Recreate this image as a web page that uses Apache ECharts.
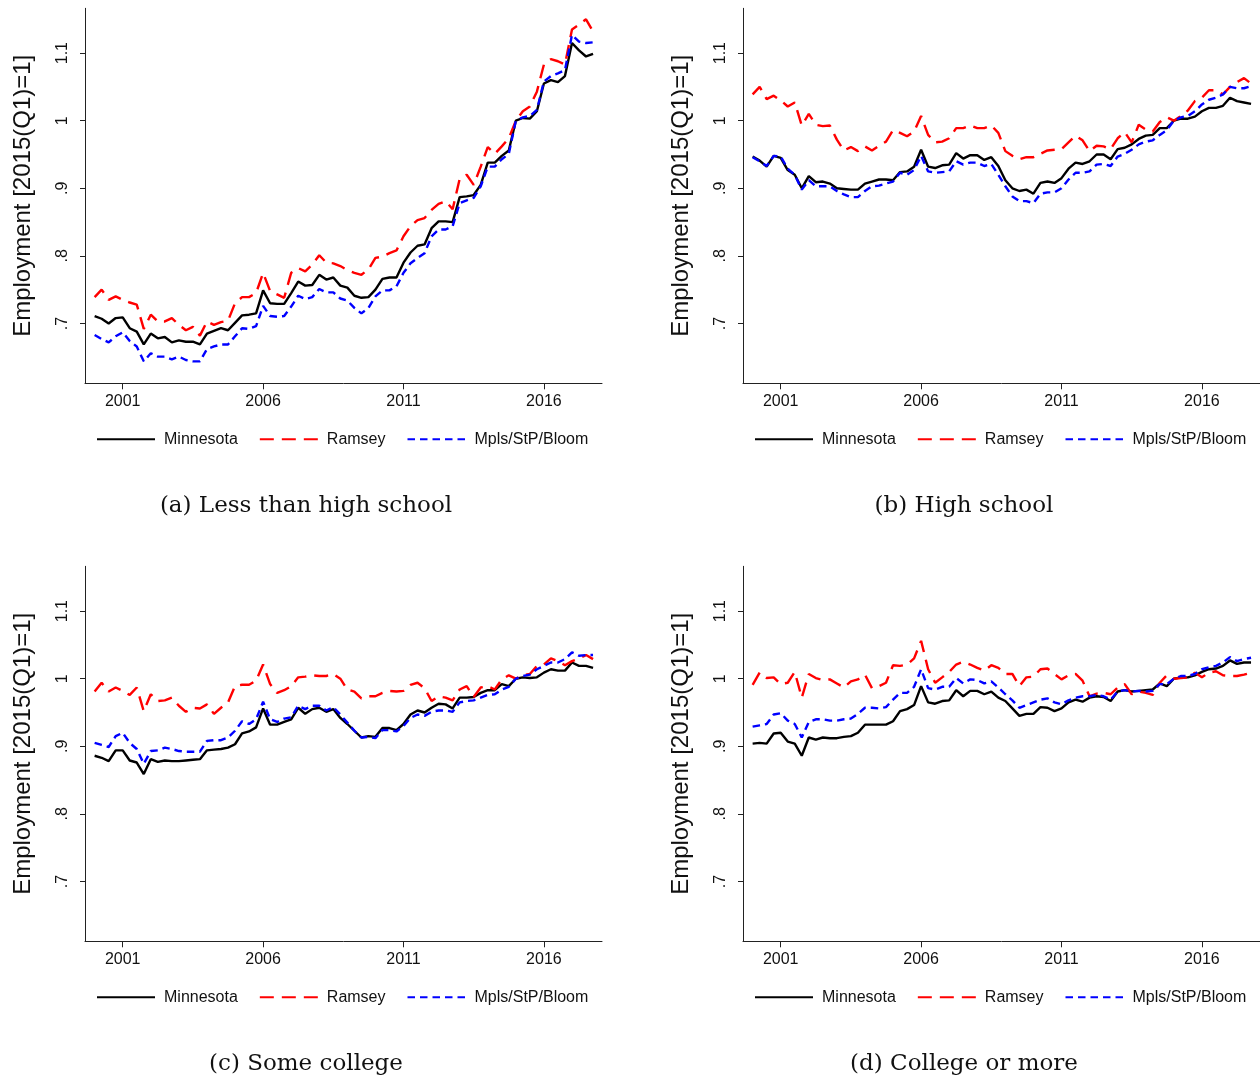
<!DOCTYPE html>
<html><head><meta charset="utf-8">
<script src="https://cdn.jsdelivr.net/npm/echarts@6/dist/echarts.min.js"></script>
<style>html,body{margin:0;padding:0;background:#fff}#c{width:1260px;height:1080px}</style>
</head><body><div id="c"></div>
<script>
// quarterly time axis: 2000q1 ... 2017q4
const quarters = [];
for (let i = 0; i < 72; i++) quarters.push(2000 + i / 4);
const xTicks = [2001, 2006, 2011, 2016];
const yTicks = [0.7, 0.8, 0.9, 1, 1.1];
const yTickLabels = ['.7', '.8', '.9', '1', '1.1'];
const seriesNames = ['Minnesota', 'Ramsey', 'Mpls/StP/Bloom'];
const captions = ['(a) Less than high school', '(b) High school', '(c) Some college', '(d) College or more'];
const yTitle = 'Employment [2015(Q1)=1]';

// (a) Less than high school
const aMN = [0.711,0.707,0.700,0.708,0.709,0.693,0.688,0.669,0.685,0.678,0.680,0.672,0.675,0.673,0.673,0.669,0.685,0.689,0.693,0.690,0.701,0.712,0.713,0.715,0.749,0.730,0.729,0.729,0.745,0.762,0.756,0.757,0.772,0.765,0.768,0.756,
0.753,0.741,0.738,0.739,0.750,0.766,0.768,0.768,0.790,0.805,0.815,0.817,0.841,0.851,0.851,0.850,0.887,0.888,0.890,0.905,0.938,0.938,0.948,0.956,1.000,1.004,1.003,1.014,1.055,1.060,1.057,1.066,1.115,1.104,1.095,1.099];
const aRam = [0.739,0.750,0.735,0.740,0.735,0.731,0.728,0.692,0.713,0.703,0.703,0.708,0.698,0.690,0.695,0.682,0.703,0.698,0.702,0.704,0.730,0.739,0.739,0.745,0.775,0.748,0.743,0.738,0.775,0.782,0.777,0.787,0.801,0.790,0.789,0.785,
0.779,0.775,0.772,0.780,0.797,0.799,0.804,0.808,0.829,0.844,0.853,0.856,0.868,0.877,0.881,0.869,0.914,0.920,0.905,0.932,0.961,0.951,0.962,0.974,1.000,1.014,1.021,1.043,1.083,1.091,1.088,1.083,1.135,1.142,1.150,1.132];
const aMsp = [0.683,0.677,0.672,0.681,0.687,0.674,0.666,0.644,0.656,0.651,0.651,0.647,0.651,0.646,0.644,0.644,0.662,0.666,0.669,0.669,0.681,0.693,0.692,0.696,0.726,0.711,0.710,0.711,0.725,0.741,0.736,0.739,0.751,0.746,0.746,0.737,
0.734,0.723,0.715,0.723,0.740,0.749,0.749,0.755,0.775,0.789,0.797,0.804,0.829,0.839,0.839,0.844,0.878,0.882,0.886,0.903,0.932,0.932,0.943,0.951,1.000,1.005,1.007,1.016,1.058,1.066,1.070,1.075,1.127,1.117,1.115,1.116];

// (b) High school
const bMN = [0.947,0.941,0.932,0.948,0.945,0.927,0.920,0.900,0.918,0.909,0.910,0.907,0.900,0.899,0.898,0.898,0.907,0.910,0.913,0.913,0.912,0.924,0.925,0.932,0.957,0.932,0.930,0.934,0.935,0.952,0.944,0.949,0.949,0.942,0.946,0.933,
0.912,0.900,0.896,0.898,0.892,0.908,0.910,0.908,0.915,0.929,0.938,0.936,0.940,0.950,0.950,0.943,0.958,0.960,0.965,0.973,0.978,0.979,0.989,0.989,1.000,1.003,1.003,1.006,1.014,1.019,1.019,1.022,1.034,1.029,1.027,1.025];
const bRam = [1.039,1.050,1.032,1.037,1.030,1.021,1.027,0.993,1.010,0.994,0.992,0.993,0.972,0.956,0.961,0.955,0.962,0.956,0.963,0.969,0.986,0.982,0.977,0.984,1.007,0.979,0.968,0.969,0.974,0.989,0.989,0.993,0.989,0.989,0.993,0.982,
0.955,0.948,0.943,0.946,0.946,0.951,0.956,0.957,0.958,0.968,0.978,0.971,0.955,0.963,0.962,0.958,0.974,0.983,0.968,0.994,0.987,0.984,0.998,1.005,1.000,1.007,1.015,1.029,1.034,1.045,1.045,1.039,1.050,1.057,1.063,1.055];
const bMsp = [0.946,0.940,0.933,0.948,0.947,0.929,0.920,0.898,0.912,0.903,0.903,0.903,0.896,0.891,0.887,0.887,0.896,0.903,0.904,0.907,0.910,0.923,0.920,0.927,0.948,0.925,0.923,0.924,0.925,0.940,0.935,0.938,0.938,0.933,0.936,0.920,
0.903,0.888,0.881,0.881,0.878,0.892,0.894,0.894,0.900,0.913,0.923,0.923,0.925,0.935,0.936,0.933,0.947,0.951,0.957,0.965,0.969,0.971,0.979,0.986,1.000,1.005,1.007,1.014,1.024,1.031,1.034,1.039,1.050,1.048,1.048,1.051];

// (c) Some college
const cMN = [0.886,0.883,0.878,0.894,0.894,0.879,0.876,0.859,0.881,0.877,0.879,0.878,0.878,0.879,0.880,0.881,0.894,0.895,0.896,0.898,0.903,0.919,0.922,0.928,0.956,0.932,0.932,0.936,0.940,0.957,0.948,0.955,0.957,0.951,0.955,0.942,
0.933,0.923,0.913,0.915,0.914,0.927,0.927,0.924,0.933,0.947,0.953,0.950,0.957,0.963,0.962,0.956,0.972,0.972,0.973,0.979,0.983,0.983,0.992,0.989,1.000,1.002,1.001,1.002,1.009,1.014,1.012,1.012,1.024,1.019,1.019,1.016];
const cRam = [0.981,0.994,0.981,0.987,0.982,0.976,0.987,0.952,0.977,0.967,0.968,0.972,0.960,0.951,0.957,0.956,0.962,0.948,0.957,0.965,0.989,0.991,0.991,0.997,1.021,0.992,0.979,0.983,0.989,1.002,1.003,1.005,1.004,1.004,1.007,1.000,
0.984,0.981,0.971,0.974,0.974,0.979,0.982,0.981,0.982,0.991,0.994,0.986,0.967,0.974,0.972,0.968,0.984,0.989,0.973,0.987,0.989,0.984,0.999,1.005,1.000,1.005,1.007,1.019,1.021,1.030,1.026,1.020,1.026,1.030,1.035,1.029];
const cMsp = [0.905,0.902,0.899,0.915,0.920,0.905,0.896,0.874,0.893,0.894,0.898,0.896,0.893,0.892,0.892,0.892,0.908,0.909,0.909,0.913,0.923,0.937,0.933,0.940,0.966,0.940,0.936,0.941,0.943,0.960,0.955,0.960,0.960,0.953,0.958,0.947,
0.935,0.923,0.913,0.914,0.912,0.924,0.924,0.922,0.930,0.942,0.947,0.945,0.951,0.953,0.953,0.951,0.965,0.967,0.968,0.972,0.976,0.977,0.984,0.988,1.000,1.004,1.006,1.014,1.019,1.024,1.024,1.029,1.039,1.034,1.035,1.035];

// (d) College or more
const dMN = [0.904,0.905,0.904,0.919,0.920,0.907,0.904,0.886,0.913,0.910,0.913,0.912,0.912,0.914,0.915,0.920,0.932,0.932,0.932,0.932,0.937,0.952,0.955,0.961,0.989,0.965,0.963,0.967,0.968,0.983,0.974,0.982,0.982,0.977,0.981,0.972,
0.967,0.956,0.945,0.948,0.948,0.958,0.957,0.952,0.956,0.965,0.969,0.966,0.972,0.974,0.973,0.967,0.981,0.983,0.981,0.982,0.983,0.984,0.993,0.989,1.000,1.002,1.002,1.005,1.010,1.014,1.015,1.019,1.027,1.022,1.024,1.024];
const dRam = [0.991,1.009,1.001,1.002,0.992,0.994,1.010,0.972,1.007,1.001,0.998,0.999,0.993,0.987,0.996,0.999,1.006,0.986,0.989,0.994,1.020,1.019,1.021,1.030,1.056,1.014,0.994,1.002,1.010,1.021,1.025,1.021,1.016,1.012,1.020,1.016,
1.007,1.007,0.989,1.002,1.003,1.014,1.015,1.007,0.999,1.005,1.007,0.997,0.974,0.978,0.979,0.977,0.987,0.992,0.977,0.981,0.979,0.976,0.994,1.005,1.000,1.001,1.002,1.009,1.002,1.009,1.011,1.005,1.004,1.004,1.006,1.009];
const dMsp = [0.929,0.931,0.933,0.947,0.949,0.938,0.933,0.913,0.936,0.940,0.940,0.938,0.938,0.940,0.941,0.948,0.957,0.957,0.956,0.958,0.969,0.979,0.979,0.988,1.014,0.986,0.984,0.988,0.988,1.001,0.993,0.999,0.998,0.993,0.996,0.987,
0.977,0.968,0.957,0.961,0.965,0.969,0.971,0.965,0.962,0.968,0.972,0.974,0.974,0.976,0.974,0.969,0.981,0.983,0.981,0.982,0.981,0.982,0.992,0.992,1.000,1.004,1.004,1.007,1.014,1.017,1.019,1.024,1.032,1.026,1.029,1.031];

const panels = [[aMN, aRam, aMsp], [bMN, bRam, bMsp], [cMN, cRam, cMsp], [dMN, dRam, dMsp]];

// layout
const grids = [
  {left: 85, top: 8.3, width: 517, height: 375},
  {left: 743, top: 8.3, width: 517, height: 375},
  {left: 85, top: 566.3, width: 517, height: 375},
  {left: 743, top: 566.3, width: 517, height: 375}
];
const capCenters = [[306, 506], [964, 506], [306, 1064], [964, 1064]];
const styles = [
  {color: '#000000', type: 'solid'},
  {color: '#ff0000', type: [14, 8]},
  {color: '#0000ff', type: [7.5, 5]}
];
const SANS = '"Liberation Sans", Arial, sans-serif';

const option = {
  animation: false,
  backgroundColor: '#fff',
  grid: grids,
  xAxis: grids.map((g, k) => ({
    type: 'value', gridIndex: k, min: 1999.657, max: 2018.069,
    splitLine: {show: false},
    axisLine: {show: true, lineStyle: {color: '#222', width: 1}},
    axisTick: {show: true, length: 6, lineStyle: {color: '#222'}, customValues: xTicks},
    axisLabel: {fontFamily: SANS, fontSize: 16, color: '#111', margin: 10, customValues: xTicks,
      formatter: v => String(Math.round(v))}
  })),
  yAxis: grids.map((g, k) => ({
    type: 'value', gridIndex: k, min: 0.6115, max: 1.1663,
    name: yTitle, nameLocation: 'middle', nameRotate: 90, nameGap: 50,
    nameTextStyle: {fontFamily: SANS, fontSize: 24, color: '#111'},
    splitLine: {show: false},
    axisLine: {show: true, lineStyle: {color: '#222', width: 1}},
    axisTick: {show: true, length: 5, lineStyle: {color: '#222'}, customValues: yTicks},
    axisLabel: {fontFamily: SANS, fontSize: 16, color: '#111', rotate: 90, margin: 14, customValues: yTicks,
      formatter: v => { const i = yTicks.findIndex(t => Math.abs(t - v) < 1e-6); return i >= 0 ? yTickLabels[i] : ''; }}
  })),
  legend: grids.map((g, k) => ({
    data: seriesNames, left: g.left + 6, top: g.top + g.height + 43,
    itemWidth: 58, itemHeight: 14, itemGap: 21, selectedMode: false,
    itemStyle: {opacity: 0, borderWidth: 0},
    textStyle: {fontFamily: SANS, fontSize: 16, color: '#111', padding: [0, 0, 0, 4]}
  })),
  series: [],
  graphic: captions.map((t, k) => ({
    type: 'text', x: capCenters[k][0], y: capCenters[k][1],
    style: {text: t, font: '23px "DejaVu Serif", serif', fill: '#111', textAlign: 'center', textVerticalAlign: 'middle'}
  }))
};

panels.forEach((arrs, k) => {
  arrs.forEach((arr, s) => {
    option.series.push({
      type: 'line', name: seriesNames[s], xAxisIndex: k, yAxisIndex: k,
      symbol: 'none', showSymbol: false, silent: true,
      lineStyle: {color: styles[s].color, width: 2.4, type: styles[s].type},
      itemStyle: {color: styles[s].color},
      data: quarters.map((q, i) => [q, arr[i]])
    });
  });
});

const chart = echarts.init(document.getElementById('c'), null, {renderer: 'canvas'});
chart.setOption(option);
</script>
</body></html>
